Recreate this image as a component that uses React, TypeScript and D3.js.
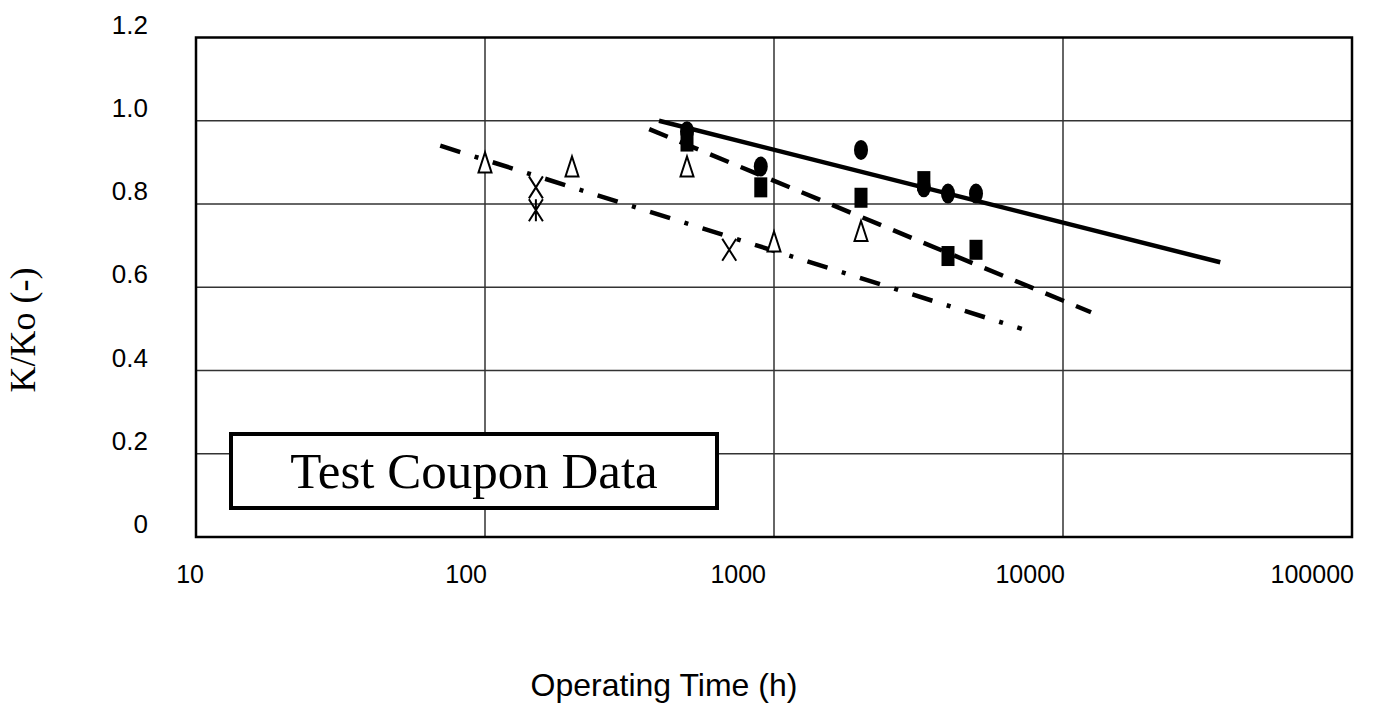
import * as d3 from 'd3';

const circleTimes = [500, 900, 2000, 3300, 4000, 5000];
const circleK = [0.975, 0.89, 0.93, 0.84, 0.825, 0.825];
const squareTimes = [500, 900, 2000, 3300, 4000, 5000];
const squareK = [0.95, 0.84, 0.815, 0.855, 0.675, 0.69];
const triangleTimes = [100, 200, 500, 1000, 2000];
const triangleK = [0.9, 0.89, 0.89, 0.71, 0.735];
const crossTimes = [150, 700];
const crossK = [0.84, 0.69];
const starTimes = [150];
const starK = [0.785];

// Trend lines (end points)
const solidTimes = [400, 35000];
const solidK = [1.0, 0.66];
const dashTimes = [370, 12500];
const dashK = [0.98, 0.54];
const dashDotTimes = [70, 7200];
const dashDotK = [0.94, 0.5];

const xTicks = [10, 100, 1000, 10000, 100000];
const xTickLabels = ['10', '100', '1000', '10000', '100000'];
const yTicks = [0, 0.2, 0.4, 0.6, 0.8, 1.0, 1.2];
const yTickLabels = ['0', '0.2', '0.4', '0.6', '0.8', '1.0', '1.2'];

const W = 1379;
const H = 709;
const plot = { left: 196, right: 1352, top: 37.5, bottom: 537 };

export default function App() {
  const x = d3.scaleLog().domain([10, 100000]).range([plot.left, plot.right]);
  const y = d3.scaleLinear().domain([0, 1.2]).range([plot.bottom, plot.top]);

  const pts = (ts: number[], ks: number[]) => ts.map((t, i) => [x(t), y(ks[i])] as [number, number]);
  const line = d3.line();
  const sans = 'Arial, "Liberation Sans", sans-serif';
  const serif = '"Times New Roman", "Liberation Serif", serif';

  return (
    <svg width={W} height={H} style={{ position: 'absolute', left: 0, top: 0, background: '#fff' }}>
      {/* grid */}
      {yTicks.slice(1, -1).map(v => (
        <line key={'gy' + v} x1={plot.left} x2={plot.right} y1={y(v)} y2={y(v)} stroke="#333" strokeWidth={1.5} />
      ))}
      {xTicks.slice(1, -1).map(v => (
        <line key={'gx' + v} x1={x(v)} x2={x(v)} y1={plot.top} y2={plot.bottom} stroke="#333" strokeWidth={1.5} />
      ))}
      <rect x={plot.left} y={plot.top} width={plot.right - plot.left} height={plot.bottom - plot.top}
        fill="none" stroke="#000" strokeWidth={2.5} />

      {/* tick labels */}
      {yTicks.map((v, i) => (
        <text key={'ty' + v} x={148} y={y(v) - 13} textAnchor="end" dominantBaseline="central"
          fontFamily={sans} fontSize={26} fill="#000">{yTickLabels[i]}</text>
      ))}
      {xTicks.map((v, i) => (
        <text key={'tx' + v} x={x(v) + (i === 0 ? 8 : i === 2 ? -8 : 2)} y={583} textAnchor="end"
          fontFamily={sans} fontSize={25} fill="#000">{xTickLabels[i]}</text>
      ))}

      {/* axis titles */}
      <text x={664} y={696} textAnchor="middle" fontFamily={sans} fontSize={32} fill="#000">Operating Time (h)</text>
      <text transform="translate(35,330) rotate(-90)" textAnchor="middle" fontFamily={serif} fontSize={36} fill="#000">K/Ko (-)</text>

      {/* trend lines */}
      <path d={line(pts(solidTimes, solidK)) || ''} stroke="#000" strokeWidth={4.5} fill="none" />
      <path d={line(pts(dashTimes, dashK)) || ''} stroke="#000" strokeWidth={4.5} fill="none" strokeDasharray="20 13" />
      <path d={line(pts(dashDotTimes, dashDotK)) || ''} stroke="#000" strokeWidth={4.5} fill="none" strokeDasharray="21 15 4 15" />

      {/* markers */}
      {pts(squareTimes, squareK).map(([px, py], i) => (
        <rect key={'s' + i} x={px - 6.5} y={py - 10} width={13} height={20} fill="#000" />
      ))}
      {pts(circleTimes, circleK).map(([px, py], i) => (
        <ellipse key={'c' + i} cx={px} cy={py} rx={7} ry={10} fill="#000" />
      ))}
      {pts(triangleTimes, triangleK).map(([px, py], i) => (
        <path key={'t' + i} d={`M${px},${py - 10}L${px + 6.5},${py + 10}L${px - 6.5},${py + 10}Z`}
          fill="#fff" stroke="#000" strokeWidth={2} />
      ))}
      {pts(crossTimes, crossK).map(([px, py], i) => (
        <path key={'x' + i} d={`M${px - 7},${py - 11}L${px + 7},${py + 11}M${px + 7},${py - 11}L${px - 7},${py + 11}`}
          stroke="#000" strokeWidth={2} fill="none" />
      ))}
      {pts(starTimes, starK).map(([px, py], i) => (
        <path key={'st' + i} d={`M${px - 7},${py - 11}L${px + 7},${py + 11}M${px + 7},${py - 11}L${px - 7},${py + 11}M${px},${py - 11}L${px},${py + 11}`}
          stroke="#000" strokeWidth={2} fill="none" />
      ))}

      {/* annotation box */}
      <rect x={231} y={434} width={486} height={74} fill="#fff" stroke="#000" strokeWidth={4} />
      <text x={474} y={488} textAnchor="middle" fontFamily={serif} fontSize={51} fill="#000">Test Coupon Data</text>
    </svg>
  );
}
